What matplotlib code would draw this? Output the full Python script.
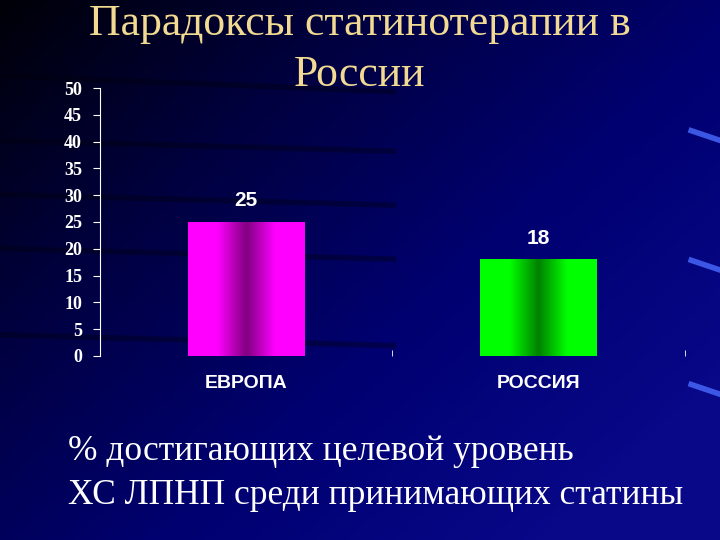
import numpy as np
import matplotlib.pyplot as plt
from matplotlib.colors import LinearSegmentedColormap

categories = ['ЕВРОПА', 'РОССИЯ']
values = [25, 18]
bar_colors = [('#ff00ff', '#800080'), ('#00ff00', '#008000')]
yticks = [0, 5, 10, 15, 20, 25, 30, 35, 40, 45, 50]

title_lines = ['Парадоксы статинотерапии в', 'России']
note_lines = ['% достигающих целевой уровень', 'ХС ЛПНП среди принимающих статины']

fig = plt.figure(figsize=(7.2, 5.4), dpi=100)

# background: dark navy gradient, darkest in the top left corner
bg = fig.add_axes([0, 0, 1, 1])
bg.set_axis_off()
xx, yy = np.meshgrid(np.linspace(0, 1, 200), np.linspace(0, 1, 150))
t = np.clip(0.6 * xx + 0.5 * yy + 0.05, 0, 1)
bg_cmap = LinearSegmentedColormap.from_list('bg', ['#000008', '#000040', '#000070', '#080888'])
bg.imshow(t, cmap=bg_cmap, extent=[0, 1, 0, 1], aspect='auto', origin='upper')
# faint dark stripes on the left
for y0, y1 in [(0.86, 0.83), (0.74, 0.72), (0.64, 0.62), (0.54, 0.52), (0.38, 0.36)]:
    bg.plot([0, 0.55], [y0, y1], color='#00000c', lw=4, alpha=0.35, solid_capstyle='butt')
# light blue strokes at the right edge
for yc in [0.75, 0.51, 0.28]:
    bg.plot([0.96, 1.0], [yc + 0.008, yc - 0.01], color='#4a6cff', lw=4, alpha=0.8)
bg.set_xlim(0, 1)
bg.set_ylim(0, 1)

ax = fig.add_axes([0.139, 0.341, 0.812, 0.496])
ax.patch.set_alpha(0)
x = np.arange(len(categories))
bars = ax.bar(x, values, width=0.4, color='none', edgecolor='none')
for b, (c1, c2) in zip(bars, bar_colors):
    cm = LinearSegmentedColormap.from_list('g', [c1, c1, c2, c1, c1])
    grad = np.linspace(0, 1, 100).reshape(1, -1)
    x0, w, h = b.get_x(), b.get_width(), b.get_height()
    im = ax.imshow(grad, cmap=cm, extent=[x0, x0 + w, 0, h], aspect='auto', zorder=2)
    im.set_clip_path(b)
    b.set_clip_on(False)
    ax.text(x0 + w / 2, h + 2.2, str(int(h)), ha='center', va='bottom', color='white',
            fontsize=15, fontweight='bold', family='Liberation Sans')

ax.set_xlim(-0.5, len(categories) - 0.5)
ax.set_ylim(0, 50)
ax.set_yticks(yticks)
ax.set_yticklabels([str(v) for v in yticks], color='white', fontsize=13,
                   fontweight='bold', family='Liberation Serif')
ax.set_xticks(x)
ax.set_xticklabels(categories, color='white', fontsize=14, fontweight='bold',
                   family='Liberation Sans')
ax.set_xticks([0.5, 1.5], minor=True)
ax.tick_params(axis='x', which='major', length=0, pad=14)
ax.tick_params(axis='x', which='minor', length=4, color='white', direction='in')
ax.tick_params(axis='y', length=5, color='white', pad=8)
for s in ['top', 'right', 'bottom']:
    ax.spines[s].set_visible(False)
ax.spines['left'].set_color('white')

fig.text(0.5, 0.955, title_lines[0], ha='center', va='center', color='#f2da92',
         fontsize=31.5, family='Liberation Serif')
fig.text(0.5, 0.862, title_lines[1], ha='center', va='center', color='#f2da92',
         fontsize=31.5, family='Liberation Serif')
fig.text(0.094, 0.163, note_lines[0], ha='left', va='center', color='white',
         fontsize=25.5, family='Liberation Serif')
fig.text(0.094, 0.083, note_lines[1], ha='left', va='center', color='white',
         fontsize=25.5, family='Liberation Serif')

fig.savefig('out.png', dpi=100)
